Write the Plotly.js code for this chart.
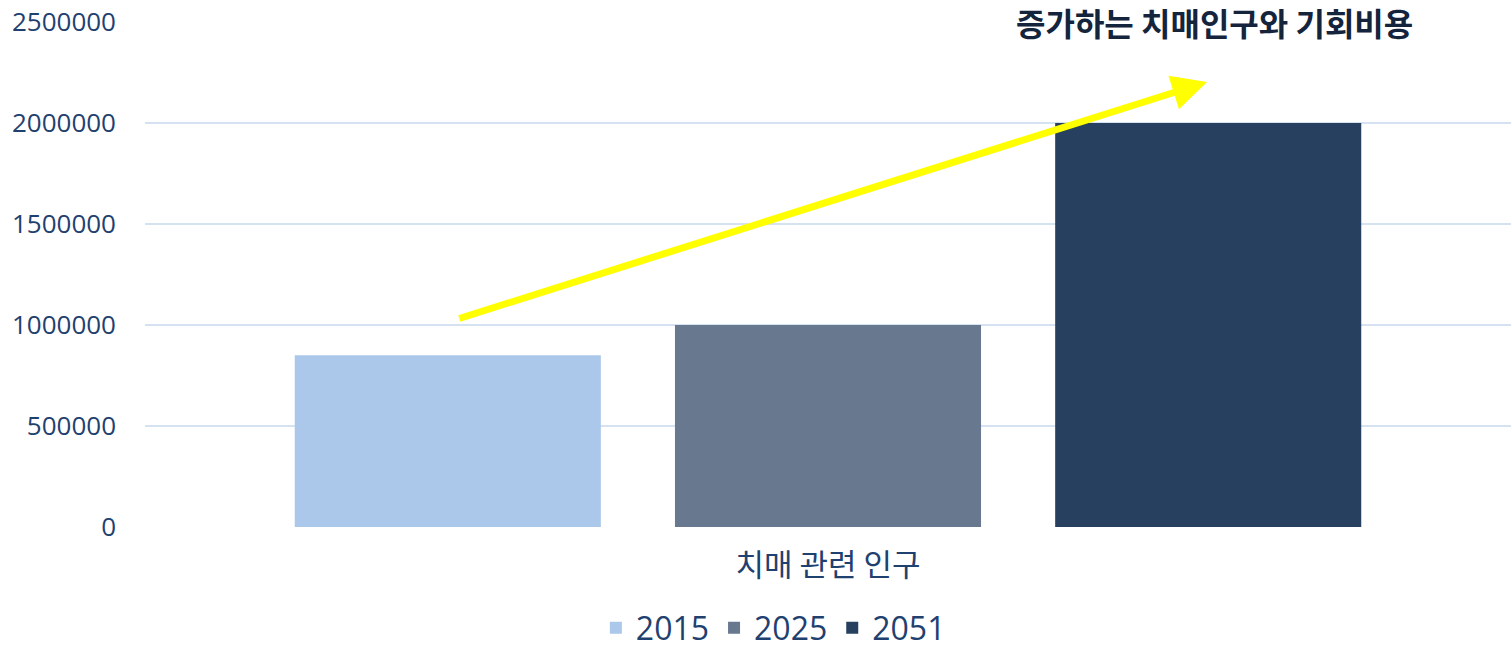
<!DOCTYPE html>
<html><head><meta charset="utf-8">
<script src="https://cdn.plot.ly/plotly-3.0.1.min.js"></script>
<style>html,body{margin:0;padding:0;background:#fff;}</style>
</head><body>
<div id="chart" style="width:1511px;height:648px;"></div>
<script>
const categories = ["치매 관련 인구"];
const seriesNames = ["2015", "2025", "2051"];
const seriesValues = [[850000], [1000000], [2000000]];
const seriesColors = ["#abc7ea", "#67788f", "#27405f"];
const yTicks = [0, 500000, 1000000, 1500000, 2000000, 2500000];
const chartTitle = "증가하는 치매인구와 기회비용";
const arrowFrom = [-0.271, 1030000];
const arrowTo = [0.2775, 2203000];

const textColor = "#1f4170";
const fam = "Open Sans, Noto Sans CJK KR, sans-serif";

const traces = seriesNames.map((n, i) => ({
  type: "bar", name: n, x: categories, y: seriesValues[i],
  marker: {color: seriesColors[i]}, hoverinfo: "skip"
}));

const layout = {
  width: 1511, height: 648,
  margin: {l: 145, r: 0, t: 22, b: 121, autoexpand: false},
  paper_bgcolor: "#fff", plot_bgcolor: "#fff",
  barmode: "group", bargap: 0.165, bargroupgap: 0.195,
  font: {family: fam, color: textColor},
  xaxis: {
    type: "category", range: [-0.5, 0.5], showgrid: false, zeroline: false,
    showline: false, ticks: "", ticklabelstandoff: 17, automargin: false,
    tickfont: {size: 31, family: "Noto Sans CJK KR, sans-serif", color: textColor}
  },
  yaxis: {
    range: [0, 2500000], tickvals: yTicks, ticktext: yTicks.map(String),
    showgrid: true, gridcolor: "#d5e2f2", gridwidth: 2, zeroline: false,
    showline: false, ticks: "", ticklabelstandoff: 28, automargin: false,
    tickfont: {size: 26, family: fam, color: textColor}
  },
  showlegend: true,
  legend: {
    orientation: "h", x: 0.46, xanchor: "center", y: -0.2, yanchor: "middle",
    font: {size: 32, family: fam, color: textColor}, itemwidth: 30,
    traceorder: "normal", borderwidth: 0
  },
  annotations: [
    {
      xref: "x", yref: "y", axref: "x", ayref: "y",
      x: arrowTo[0], y: arrowTo[1], ax: arrowFrom[0], ay: arrowFrom[1],
      text: "", showarrow: true, arrowhead: 2, arrowsize: 1.0, arrowwidth: 7,
      arrowcolor: "#ffff00", standoff: 0, startstandoff: 0
    },
    {
      xref: "paper", yref: "paper", x: 0.783, y: 1.0, xanchor: "center", yanchor: "middle",
      text: "<b>" + chartTitle + "</b>", showarrow: false, borderpad: 0,
      font: {size: 32, family: "Noto Sans CJK KR, sans-serif", color: "#14243d"}
    }
  ]
};

Plotly.newPlot("chart", traces, layout, {staticPlot: true, displayModeBar: false});
</script>
</body></html>
